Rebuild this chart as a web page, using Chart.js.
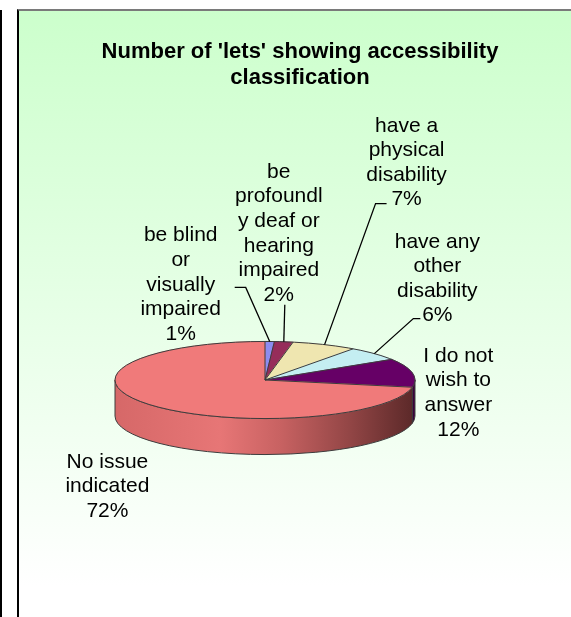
<!DOCTYPE html>
<html>
<head>
<meta charset="utf-8">
<script src="https://cdn.jsdelivr.net/npm/chart.js@4.4.0/dist/chart.umd.min.js"></script>
<style>
    html, body { margin: 0; padding: 0; width: 571px; height: 617px; overflow: hidden; background: #fff; }
    #edge { position: absolute; left: 0; top: 10px; width: 2px; height: 607px; background: #000; }
    #panel { position: absolute; left: 17px; top: 9px; width: 554px; height: 608px; box-sizing: border-box;
        border-left: 2px solid #000; border-top: 2px solid #7a7a7a;
        background: linear-gradient(#ccffcc, #ffffff 95%); }
    #myChart { position: absolute; left: 0; top: 0; }
</style>
</head>
<body>
<div id="edge"></div>
<div id="panel"></div>
<canvas id="myChart" width="571" height="617"></canvas>
<script>

const categories = ['be blind or visually impaired', 'be profoundly deaf or hearing impaired',
    'have a physical disability', 'have any other disability', 'I do not wish to answer', 'No issue indicated'];
const percents = [1, 2, 7, 6, 12, 72];
const labelLines = [
    ['be blind', 'or', 'visually', 'impaired'],
    ['be', 'profoundl', 'y deaf or', 'hearing', 'impaired'],
    ['have a', 'physical', 'disability'],
    ['have any', 'other', 'disability'],
    ['I do not', 'wish to', 'answer'],
    ['No issue', 'indicated']
];
const titleLines = ["Number of 'lets' showing accessibility", 'classification'];

const topColors = ['#8c8cf0', '#962d5a', '#efe6b0', '#c4eef2', '#660066', '#f07a7a'];
const sideColors = ['#6a6acc', '#6e2449', '#bab48c', '#8cbaba', '#3c003c', null];
const sideStops = [[0, '#d66868'], [0.35, '#e77676'], [0.55, '#c86262'], [0.78, '#934646'], [1, '#5a2828']];

// where the tilted pie sits on the page
const pieCenter = { x: 265, y: 380 };
const tilt = 0.257;
const depth = 36;
const edgeColor = '#3c3c3c';

// label block (centre x, first baseline) and leader elbow, relative to slice mid point on the rim
const labelOffsets = [[-89, -100], [-5, -164], [82, -213], [63, -106], [46, -11], [-42, 63]];
const leaders = [[-24, -54, -11], [1, -37, 0], [51, -141, 11], [39, -35, 7], null, null];
const labelFont = '21px "Liberation Sans", Arial, sans-serif';
const lineGap = 24.6;


function project(angle, r) {
    return {
        x: pieCenter.x + r * Math.cos(angle),
        y: pieCenter.y + r * tilt * Math.sin(angle)
    };
}

function drawSide(ctx, arc, i) {
    let s = Math.max(arc.startAngle, 0);
    let e = Math.min(arc.endAngle, Math.PI);
    if (e <= s) return;
    let r = arc.outerRadius;
    ctx.beginPath();
    ctx.ellipse(pieCenter.x, pieCenter.y, r, r * tilt, 0, s, e);
    ctx.ellipse(pieCenter.x, pieCenter.y + depth, r, r * tilt, 0, e, s, true);
    ctx.closePath();
    if (sideColors[i]) {
        ctx.fillStyle = sideColors[i];
    } else {
        let g = ctx.createLinearGradient(pieCenter.x - r, 0, pieCenter.x + r, 0);
        sideStops.forEach(st => g.addColorStop(st[0], st[1]));
        ctx.fillStyle = g;
    }
    ctx.fill();
    ctx.strokeStyle = edgeColor;
    ctx.lineWidth = 1;
    ctx.stroke();
}

const pie3d = {
    id: 'pie3d',
    beforeDatasetsDraw(chart) {
        const ctx = chart.ctx;
        const arcs = chart.getDatasetMeta(0).data;
        ctx.save();
        arcs.forEach((arc, i) => drawSide(ctx, arc, i));
        ctx.restore();

        // squash the flat pie into the top face
        ctx.save();
        ctx.translate(pieCenter.x, pieCenter.y);
        ctx.scale(1, tilt);
        ctx.translate(-arcs[0].x, -arcs[0].y);
    },
    afterDatasetsDraw(chart) {
        const ctx = chart.ctx;
        ctx.restore();
        const arcs = chart.getDatasetMeta(0).data;
        let r = arcs[0].outerRadius;
        ctx.save();
        ctx.strokeStyle = edgeColor;
        ctx.lineWidth = 1;
        arcs.forEach(arc => {
            let p = project(arc.startAngle, r);
            ctx.beginPath();
            ctx.moveTo(pieCenter.x, pieCenter.y);
            ctx.lineTo(p.x, p.y);
            ctx.stroke();
        });
        ctx.beginPath();
        ctx.ellipse(pieCenter.x, pieCenter.y, r, r * tilt, 0, 0, Math.PI * 2);
        ctx.stroke();
        ctx.restore();
    },
    afterDraw(chart) {
        const ctx = chart.ctx;
        const arcs = chart.getDatasetMeta(0).data;
        let total = percents.reduce((a, b) => a + b, 0);
        ctx.save();
        ctx.font = labelFont;
        ctx.fillStyle = '#000';
        ctx.strokeStyle = '#000';
        ctx.lineWidth = 1.3;
        ctx.textAlign = 'center';
        arcs.forEach((arc, i) => {
            let mid = (arc.startAngle + arc.endAngle) / 2;
            let p = project(mid, arc.outerRadius);
            let lines = labelLines[i].concat(Math.round(percents[i] / total * 100) + '%');
            lines.forEach((t, j) => {
                ctx.fillText(t, p.x + labelOffsets[i][0], p.y + labelOffsets[i][1] + j * lineGap);
            });
            let l = leaders[i];
            if (l) {
                ctx.beginPath();
                ctx.moveTo(p.x, p.y);
                ctx.lineTo(p.x + l[0], p.y + l[1]);
                ctx.lineTo(p.x + l[0] + l[2], p.y + l[1]);
                ctx.stroke();
            }
        });
        ctx.restore();
    }
};

const myChart = new Chart(document.getElementById('myChart'), {
    type: 'pie',
    data: {
        labels: categories,
        datasets: [{
            data: percents,
            backgroundColor: topColors,
            borderColor: topColors,
            borderWidth: 1
        }]
    },
    options: {
        responsive: false,
        animation: false,
        events: [],
        radius: 150,
        layout: { padding: { left: 40, right: 11, top: 0, bottom: 0 } },
        plugins: {
            legend: { display: false },
            tooltip: { enabled: false },
            title: {
                display: true,
                text: titleLines,
                color: '#000',
                font: { family: '"Liberation Sans", Arial, sans-serif', size: 22, weight: 'bold', lineHeight: 1.18 },
                padding: { top: 39, bottom: 10 }
            }
        }
    },
    plugins: [pie3d]
});
</script>
</body>
</html>
